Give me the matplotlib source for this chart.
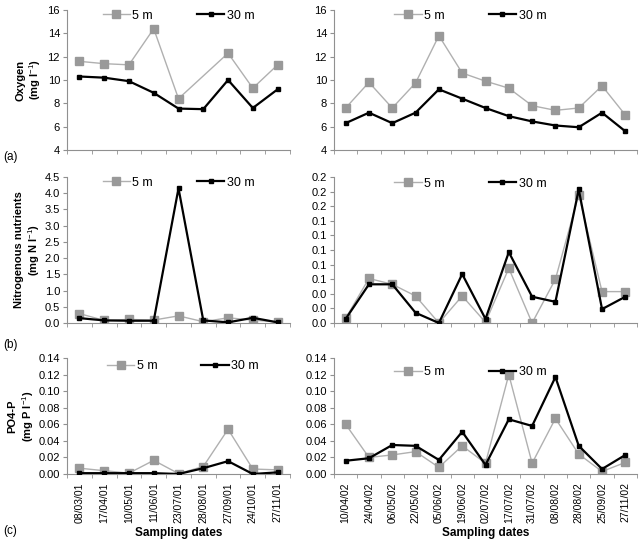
import numpy as np
import matplotlib
matplotlib.use('Agg')
import matplotlib.pyplot as plt
from matplotlib.ticker import FormatStrFormatter, MultipleLocator

plt.rcParams['font.family'] = ['Liberation Sans', 'DejaVu Sans']
plt.rcParams['font.size'] = 8
plt.rcParams['mathtext.fontset'] = 'custom'
plt.rcParams['mathtext.rm'] = 'Liberation Sans'
plt.rcParams['mathtext.bf'] = 'Liberation Sans:bold'

dates_2001 = ['08/03/01', '17/04/01', '10/05/01', '11/06/01', '23/07/01',
              '28/08/01', '27/09/01', '24/10/01', '27/11/01']
dates_2002 = ['10/04/02', '24/04/02', '06/05/02', '22/05/02', '05/06/02',
              '19/06/02', '02/07/02', '17/07/02', '31/07/02', '08/08/02',
              '28/08/02', '25/09/02', '27/11/02']

# oxygen (mg/l)
oxy_5m_2001 = [11.6, 11.4, 11.3, 14.4, 8.4, np.nan, 12.3, 9.3, 11.3]
oxy_30m_2001 = [10.3, 10.2, 9.9, 8.9, 7.55, 7.5, 10.0, 7.6, 9.2]
oxy_5m_2002 = [7.6, 9.8, 7.6, 9.75, 13.8, 10.6, 9.9, 9.3, 7.8, 7.4, 7.6, 9.5, 7.0]
oxy_30m_2002 = [6.3, 7.2, 6.3, 7.2, 9.2, 8.4, 7.6, 6.9, 6.45, 6.1, 5.95, 7.2, 5.6]

# nitrogenous nutrients (mg N/l)
nit_5m_2001 = [0.29, 0.08, 0.11, 0.09, 0.22, 0.04, 0.16, 0.09, 0.03]
nit_30m_2001 = [0.15, 0.08, 0.07, 0.07, 4.15, 0.08, 0.02, 0.16, 0.02]
nit_5m_2002 = [0.0065, 0.061, 0.053, 0.037, 0.0, 0.037, 0.001, 0.075, 0.0,
               0.060, 0.176, 0.043, 0.043]
nit_30m_2002 = [0.0056, 0.053, 0.053, 0.014, 0.0, 0.067, 0.0056, 0.097, 0.036,
                0.029, 0.183, 0.019, 0.036]

# PO4-P (mg P/l)
po4_5m_2001 = [0.007, 0.004, 0.001, 0.0165, 0.0005, 0.009, 0.054, 0.006, 0.005]
po4_30m_2001 = [0.001, 0.001, 0.001, 0.001, 0.0, 0.007, 0.0155, 0.0, 0.002]
po4_5m_2002 = [0.060, 0.020, 0.023, 0.027, 0.008, 0.034, 0.013, 0.120, 0.013,
               0.067, 0.024, 0.003, 0.014]
po4_30m_2002 = [0.016, 0.019, 0.035, 0.034, 0.017, 0.051, 0.011, 0.066, 0.058,
                0.117, 0.034, 0.006, 0.023]

W, H = 640, 542
fig = plt.figure(figsize=(W / 100, H / 100), dpi=100)


def px_axes(x0, y0, x1, y1):
    return fig.add_axes([x0 / W, 1 - y1 / H, (x1 - x0) / W, (y1 - y0) / H])


def draw(ax, v5, v30, dates, ylim, step, fmt, show_dates, leg_anchor):
    n = len(dates)
    x = np.arange(n) + 0.5
    v5 = np.array(v5, dtype=float)
    m = ~np.isnan(v5)
    l5, = ax.plot(x[m], v5[m], color='#b0b0b0', lw=1.0, marker='s', ms=6,
                  mfc='#999999', mec='#999999', label='5 m', zorder=2)
    l30, = ax.plot(x, v30, color='black', lw=1.6, marker='s', ms=2.5,
                   label='30 m', zorder=3)
    ax.set_xlim(0, n)
    ax.set_ylim(*ylim)
    ax.yaxis.set_major_locator(MultipleLocator(step))
    ax.yaxis.set_major_formatter(FormatStrFormatter(fmt))
    for s in ['top', 'right']:
        ax.spines[s].set_visible(False)
    for s in ['left', 'bottom']:
        ax.spines[s].set_color('#909090')
        ax.spines[s].set_linewidth(0.8)
    ax.tick_params(axis='y', length=3, color='#909090', labelsize=8, pad=2)
    ax.set_xticks(np.arange(n + 1), minor=True)
    ax.tick_params(axis='x', which='minor', length=3, color='#909090')
    if show_dates:
        ax.set_xticks(x)
        ax.set_xticklabels(dates, rotation=90, fontsize=7.5)
        ax.tick_params(axis='x', which='major', length=0, pad=6)
        ax.set_xlabel('Sampling dates', fontsize=8.5, fontweight='bold', labelpad=3)
    else:
        ax.set_xticks([])
    ax.legend(handles=[l5, l30], ncol=2, frameon=False, loc='center',
              bbox_to_anchor=leg_anchor, fontsize=9, handlelength=2.2,
              handletextpad=0.2, columnspacing=3.5, borderpad=0)


axL = [67, 290]
axR = [334, 637]
rows = [(10, 150), (177, 323), (358, 474)]

a1 = px_axes(axL[0], rows[0][0], axL[1], rows[0][1])
draw(a1, oxy_5m_2001, oxy_30m_2001, dates_2001, (4, 16), 2, '%d', False, (0.5, 0.96))
a1.set_ylabel('Oxygen\n(mg l$^{-1}$)', fontweight='bold', fontsize=8, labelpad=3)
a2 = px_axes(axR[0], rows[0][0], axR[1], rows[0][1])
draw(a2, oxy_5m_2002, oxy_30m_2002, dates_2002, (4, 16), 2, '%d', False, (0.45, 0.96))

b1 = px_axes(axL[0], rows[1][0], axL[1], rows[1][1])
draw(b1, nit_5m_2001, nit_30m_2001, dates_2001, (0, 4.5), 0.5, '%.1f', False, (0.5, 0.96))
b1.set_ylabel('Nitrogenous nutrients\n(mg N l$^{-1}$)', fontweight='bold', fontsize=8, labelpad=2)
b2 = px_axes(axR[0], rows[1][0], axR[1], rows[1][1])
draw(b2, nit_5m_2002, nit_30m_2002, dates_2002, (0, 0.2), 0.02, '%.1f', False, (0.45, 0.955))

c1 = px_axes(axL[0], rows[2][0], axL[1], rows[2][1])
draw(c1, po4_5m_2001, po4_30m_2001, dates_2001, (0, 0.14), 0.02, '%.2f', True, (0.52, 0.93))
c1.set_ylabel('PO4-P\n(mg P l$^{-1}$)', fontweight='bold', fontsize=8, labelpad=2)
c2 = px_axes(axR[0], rows[2][0], axR[1], rows[2][1])
draw(c2, po4_5m_2002, po4_30m_2002, dates_2002, (0, 0.14), 0.02, '%.2f', True, (0.45, 0.88))

fig.text(3 / W, 1 - 157 / H, '(a)', fontsize=8.5, va='center')
fig.text(3 / W, 1 - 345 / H, '(b)', fontsize=8.5, va='center')
fig.text(3 / W, 1 - 531 / H, '(c)', fontsize=8.5, va='center')

fig.savefig('out.png', dpi=100)
